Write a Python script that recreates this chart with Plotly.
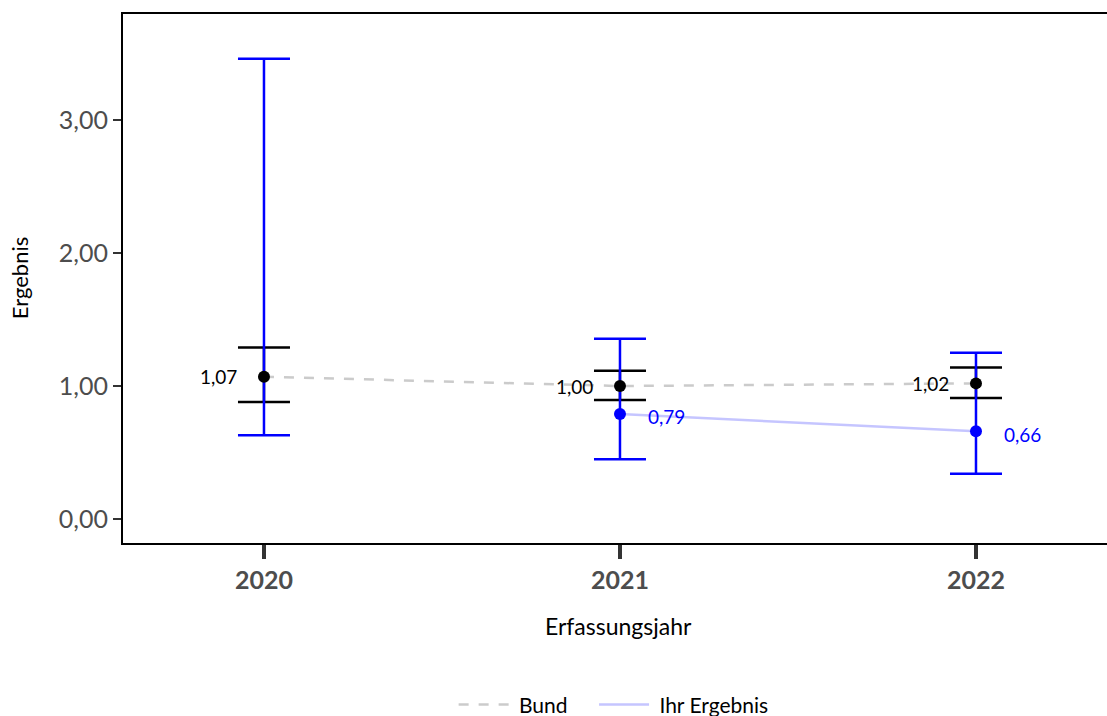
import plotly.graph_objects as go

years = [2020, 2021, 2022]
bund = [1.07, 1.00, 1.02]
bund_lo = [0.88, 0.895, 0.91]
bund_hi = [1.29, 1.115, 1.14]
ihr = [None, 0.79, 0.66]
ihr_lo = [0.63, 0.45, 0.34]
ihr_hi = [3.46, 1.355, 1.25]
y_ticks = [0, 1, 2, 3]

FONT = "Lato"
PAD = "\u00a0"
TRAIL = "\u00a0" * 4

def fmt(v):
    return f"{v:.2f}".replace(".", ",")

fig = go.Figure()

# Bund CI
fig.add_trace(go.Scatter(
    x=years, y=bund_lo, mode="markers", marker=dict(opacity=0, size=1),
    error_y=dict(type="data", symmetric=False,
                 array=[h - l for h, l in zip(bund_hi, bund_lo)],
                 arrayminus=[0] * 3, color="black", thickness=2.5, width=26),
    showlegend=False, hoverinfo="skip"))
# Ihr CI
fig.add_trace(go.Scatter(
    x=years, y=ihr_lo, mode="markers", marker=dict(opacity=0, size=1),
    error_y=dict(type="data", symmetric=False,
                 array=[h - l for h, l in zip(ihr_hi, ihr_lo)],
                 arrayminus=[0] * 3, color="#0000ff", thickness=2.5, width=26),
    showlegend=False, hoverinfo="skip"))

# lines
fig.add_trace(go.Scatter(
    x=years, y=bund, mode="lines", name=PAD + "Bund" + TRAIL,
    line=dict(color="rgba(160,160,160,0.55)", dash="10px,10px", width=2.5)))
fig.add_trace(go.Scatter(
    x=years, y=ihr, mode="lines", name=PAD + "Ihr Ergebnis",
    line=dict(color="rgba(150,150,255,0.55)", width=2.5), connectgaps=False))

# points
fig.add_trace(go.Scatter(
    x=years, y=ihr, mode="markers", marker=dict(color="#0000ff", size=12),
    showlegend=False))
fig.add_trace(go.Scatter(
    x=years, y=bund, mode="markers", marker=dict(color="black", size=12),
    showlegend=False))

for x, v in zip(years, bund):
    fig.add_annotation(x=x, y=v, text=fmt(v), showarrow=False, xanchor="right",
                       xshift=-25, font=dict(family=FONT, size=19, color="black"))
for x, v in zip(years, ihr):
    if v is not None:
        fig.add_annotation(x=x, y=v, text=fmt(v), showarrow=False, xanchor="left",
                           xshift=26, yshift=-3, font=dict(family=FONT, size=19, color="#0000ff"))

# axis titles
fig.add_annotation(x=-0.105, y=0.5, xref="paper", yref="paper", text="Ergebnis",
                   textangle=-90, showarrow=False, xanchor="center", yanchor="middle",
                   font=dict(family=FONT, size=22, color="black"))
fig.add_annotation(x=0.504, y=-0.157, xref="paper", yref="paper", text="Erfassungsjahr",
                   showarrow=False, xanchor="center", yanchor="middle",
                   font=dict(family=FONT, size=23, color="black"))

fig.update_layout(
    width=1107, height=716,
    margin=dict(l=123, r=0, t=14, b=173, autoexpand=False),
    plot_bgcolor="white", paper_bgcolor="white",
    separators=",.",
    font=dict(family=FONT, color="black"),
    legend=dict(orientation="h", x=0.336, xanchor="left", y=-0.306, yanchor="middle",
                font=dict(family=FONT, size=21, color="black"), itemwidth=50,
                tracegroupgap=0),
    xaxis=dict(range=[2019.604, 2022.368], tickvals=years, ticktext=[str(y) for y in years],
               automargin=False,
               showgrid=False, zeroline=False, showline=True, linecolor="black", linewidth=2,
               mirror=True, ticks="outside", ticklen=14, tickwidth=4, tickcolor="#333333",
               tickfont=dict(family=FONT, size=25, color="#4d4d4d", weight="bold")),
    yaxis=dict(range=[-0.18, 3.797], tickvals=y_ticks, tickformat=".2f",
               automargin=False,
               showgrid=False, zeroline=False, showline=True, linecolor="black", linewidth=2,
               ticks="outside", ticklen=8, tickwidth=2, tickcolor="#333333",
               tickfont=dict(family=FONT, size=25, color="#4d4d4d")),
)

fig.write_html("out.html", config={"displayModeBar": False},
               post_script="document.body.style.margin='0';document.body.style.overflow='hidden';")
